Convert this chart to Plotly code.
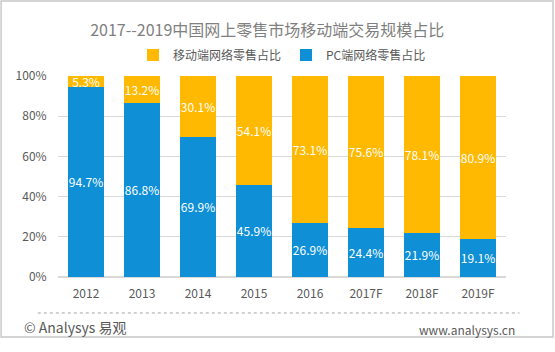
import plotly.graph_objects as go

categories = ["2012", "2013", "2014", "2015", "2016", "2017F", "2018F", "2019F"]
pc_share = [94.7, 86.8, 69.9, 45.9, 26.9, 24.4, 21.9, 19.1]
mobile_share = [5.3, 13.2, 30.1, 54.1, 73.1, 75.6, 78.1, 80.9]
y_ticks = [0, 20, 40, 60, 80, 100]
y_tick_labels = ["0%", "20%", "40%", "60%", "80%", "100%"]

FONT = "Noto Sans CJK SC"
BLUE = "#0e8fd6"
YELLOW = "#ffb900"

fig = go.Figure()
fig.add_trace(go.Bar(
    x=categories, y=pc_share, name="PC端网络零售占比",
    marker=dict(color=BLUE, line=dict(width=0)),
    text=[f"{v:.1f}%" for v in pc_share], textposition="inside",
    insidetextanchor="middle", textangle=0,
    textfont=dict(color="white", size=12, family=FONT),
))
fig.add_trace(go.Bar(
    x=categories, y=mobile_share, name="移动端网络零售占比",
    marker=dict(color=YELLOW, line=dict(width=0)),
    text=[f"{v:.1f}%" for v in mobile_share], textposition="inside",
    insidetextanchor="middle", textangle=0,
    textfont=dict(color="white", size=12, family=FONT),
))

fig.update_layout(
    barmode="stack",
    bargap=0.36,
    width=555, height=352,
    margin=dict(l=58, r=49, t=76, b=75),
    paper_bgcolor="white", plot_bgcolor="white",
    font=dict(family=FONT, color="#595959", size=12),
    uniformtext=dict(minsize=12, mode="show"),
    title=dict(text="2017--2019中国网上零售市场移动端交易规模占比",
               x=0.467, xanchor="center", xref="paper",
               y=0.915, yanchor="middle", yref="container",
               font=dict(size=16, color="#7f7f7f", family=FONT)),
    legend=dict(orientation="h", traceorder="reversed",
                x=0.5, xanchor="center", y=1.104, yanchor="middle",
                font=dict(size=12, color="#595959", family=FONT),
                itemwidth=30, bgcolor="rgba(0,0,0,0)"),
    xaxis=dict(showline=False, ticks="outside", ticklen=6, tickcolor="rgba(0,0,0,0)",
               tickfont=dict(size=12, color="#595959")),
    yaxis=dict(range=[0, 100], tickvals=y_ticks, ticktext=y_tick_labels,
               showgrid=True, gridcolor="#d9d9d9", gridwidth=1,
               zeroline=True, zerolinecolor="#d9d9d9",
               ticks="outside", ticklen=8, tickcolor="rgba(0,0,0,0)",
               tickfont=dict(size=12, color="#595959")),
    shapes=[
        dict(type="line", xref="paper", yref="paper",
             x0=-0.045, x1=1.03, y0=-0.179, y1=-0.179,
             line=dict(color="#a6a6a6", width=1, dash="dot")),
        dict(type="rect", xref="paper", yref="paper",
             x0=-0.127, x1=1.105, y0=-0.299, y1=1.373,
             line=dict(color="#c8c8c8", width=1.5)),
    ],
    annotations=[
        dict(text="© Analysys 易观", xref="paper", yref="paper",
             x=-0.08, y=-0.25, xanchor="left", yanchor="middle", showarrow=False,
             font=dict(size=14, color="#595959", family=FONT)),
        dict(text="www.analysys.cn", xref="paper", yref="paper",
             x=1.025, y=-0.26, xanchor="right", yanchor="middle", showarrow=False,
             font=dict(size=12, color="#595959", family=FONT)),
    ],
)
fig.update_yaxes(layer="below traces")

fig.write_html("out.html")
